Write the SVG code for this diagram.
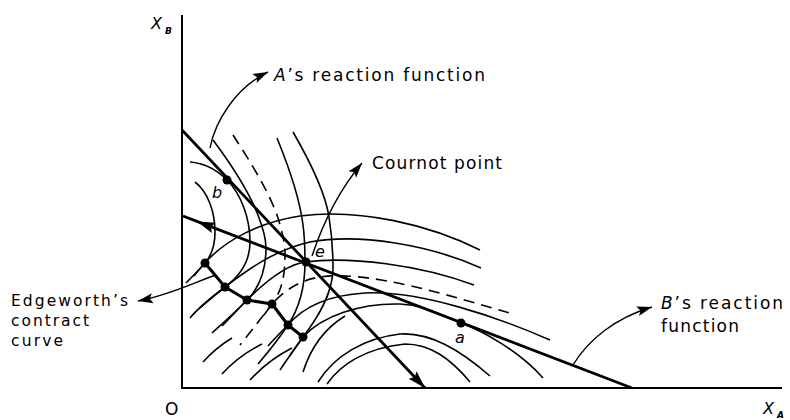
<svg xmlns="http://www.w3.org/2000/svg" width="790" height="420" viewBox="0 0 790 420">
<defs>
<style>
.ax{fill:none;stroke:#000;stroke-width:2}
.rf{fill:none;stroke:#000;stroke-width:2.8}
.cv{fill:none;stroke:#000;stroke-width:1.6}
.ds{fill:none;stroke:#000;stroke-width:1.6;stroke-dasharray:11 7}
.cc{fill:none;stroke:#000;stroke-width:3;stroke-linejoin:round}
.ar{fill:none;stroke:#000;stroke-width:1.4;marker-end:url(#ah)}
.dot{fill:#000}
.t{font-family:"DejaVu Sans","Liberation Sans",Arial,sans-serif;font-size:17px;fill:#000}
.te{font-family:"DejaVu Sans","Liberation Sans",Arial,sans-serif;font-size:15.5px;fill:#000}
.pt{font-family:"DejaVu Sans","Liberation Sans",Arial,sans-serif;font-size:16px;font-style:italic;fill:#000}
.sb{font-family:"DejaVu Sans","Liberation Sans",Arial,sans-serif;font-size:9px;font-weight:bold;font-style:italic;fill:#000}
</style>
<marker id="ah" viewBox="-16 -6 17 12" refX="0" refY="0" markerWidth="17" markerHeight="12" orient="auto" markerUnits="userSpaceOnUse"><path d="M0,0 L-15,-5 L-12,0 L-15,5 z" fill="#000"/></marker>
<marker id="ahb" viewBox="-19 -7 20 14" refX="0" refY="0" markerWidth="20" markerHeight="14" orient="auto" markerUnits="userSpaceOnUse"><path d="M0,0 L-18,-5.5 L-15,0 L-18,5.5 z" fill="#000"/></marker>
</defs>
<rect width="790" height="420" fill="#fff"/>

<g id="axes">
<path class="ax" d="M182,15 V388 H782"/>
<text class="pt" x="151" y="29">X</text><text class="sb" x="165" y="34">B</text>
<text class="pt" x="763" y="414">X</text><text class="sb" x="777" y="418">A</text>
<text class="t" x="165" y="415">O</text>
</g>

<g id="isoprofit-B">
<path class="cv" d="M195,182 C208,192 215,212 215,232 C215,246 211,256 205,263 C199,270 193,276 186,283"/>
<path class="cv" d="M190,162 C203,163 216,169 227,180 C241,194 250,218 250,242 C250,262 240,276 225,287 C213,296 200,306 190,318"/>
<path class="cv" d="M213,140 C228,160 248,190 258,215 C263,228 266,238 266,248 C266,270 260,287 247,300 C238,310 226,320 212,333"/>
<path class="ds" d="M233,135 C248,158 268,190 277,215 C282,230 285,243 285,255 C285,278 281,292 272,304 C263,316 252,330 240,345"/>
<path class="cv" d="M277,138 C288,165 300,200 303,225 C305,240 305,250 305,262 C305,290 298,310 288,325 C280,337 270,350 258,364"/>
<path class="cv" d="M293,132 C308,158 325,190 329,217 C332,236 333,252 333,268 C333,295 316,320 303,337 C296,347 288,358 280,370"/>
</g>

<g id="isoprofit-A">
<path class="cv" d="M194,276 C198,271 202,266 205,263 C225,240 260,222 300,216 C360,208 430,225 480,250"/>
<path class="cv" d="M200,308 C208,301 218,293 225,287 C250,268 275,250 310,242 C360,233 430,245 481,268"/>
<path class="cv" d="M222,326 C232,316 240,307 247,300 C265,282 285,265 305,262 C350,256 420,265 474,285"/>
<path class="ds" d="M264,315 C267,311 269,308 272,304 C285,290 300,280 320,277 C370,270 450,296 510,313"/>
<path class="cv" d="M268,346 C275,338 282,331 288,325 C305,305 330,295 365,293 C420,290 500,318 550,340"/>
<path class="cv" d="M290,355 C296,347 300,341 303,337 C322,316 360,303 400,304 C425,305 440,315 461,323 C485,332 520,352 543,378"/>
<path class="cv" d="M303,372 C310,350 322,330 345,316"/>
<path class="cv" d="M318,382 C335,355 365,338 400,334 C430,332 460,350 490,376"/>
<path class="cv" d="M327,384 C340,365 365,348 405,344 C430,344 450,358 470,382"/>
<path class="cv" d="M203,362 C212,352 222,344 232,338"/>
<path class="cv" d="M222,374 C233,362 246,352 262,344"/>
<path class="cv" d="M250,380 C262,367 276,356 292,348"/>
</g>

<g id="reaction-A">
<path class="rf" d="M182,130 L425,388" marker-end="url(#ahb)"/>
</g>
<g id="reaction-B">
<path class="rf" d="M632,388 L197,221.4 L183,216" marker-mid="url(#ahb)"/>
</g>

<g id="contract-curve">
<path class="cc" d="M205,263 L225,287 L247,300 L272,304 L288,325 L303,337"/>
<circle class="dot" cx="205" cy="263" r="4.5"/>
<circle class="dot" cx="225" cy="287" r="4.5"/>
<circle class="dot" cx="247" cy="300" r="4.5"/>
<circle class="dot" cx="272" cy="304" r="4.5"/>
<circle class="dot" cx="288" cy="325" r="4.5"/>
<circle class="dot" cx="303" cy="337" r="4.5"/>
</g>

<g id="point-b"><circle class="dot" cx="227" cy="180" r="4.5"/><text class="pt" x="212" y="198">b</text></g>
<g id="point-e"><circle class="dot" cx="306" cy="262" r="4.5"/><text class="pt" x="315" y="257">e</text></g>
<g id="point-a"><circle class="dot" cx="461" cy="323" r="4.5"/><text class="pt" x="455" y="343">a</text></g>

<g id="label-A"><text class="t" x="274" y="81" textLength="211" lengthAdjust="spacing"><tspan font-style="italic">A</tspan>’s reaction function</text></g>
<g id="label-cournot"><text class="t" x="372" y="169" textLength="130" lengthAdjust="spacing">Cournot point</text></g>
<g id="label-B"><text class="t" x="661" y="309" textLength="122" lengthAdjust="spacing"><tspan font-style="italic">B</tspan>’s reaction</text><text class="t" x="661" y="332" textLength="78" lengthAdjust="spacing">function</text></g>
<g id="label-edgeworth"><text class="te" x="11" y="306" textLength="117" lengthAdjust="spacing">Edgeworth’s</text><text class="te" x="11" y="326" textLength="78" lengthAdjust="spacing">contract</text><text class="te" x="11" y="346" textLength="52" lengthAdjust="spacing">curve</text></g>

<g id="connectors">
<path class="ar" d="M210,148 C215,122 235,88 268,72"/>
<path class="ar" d="M312,256 C320,232 335,195 362,163"/>
<path class="ar" d="M573,365 C588,340 615,318 652,307"/>
<path class="ar" d="M216,275 C195,282 170,295 138,301"/>
</g>
</svg>
